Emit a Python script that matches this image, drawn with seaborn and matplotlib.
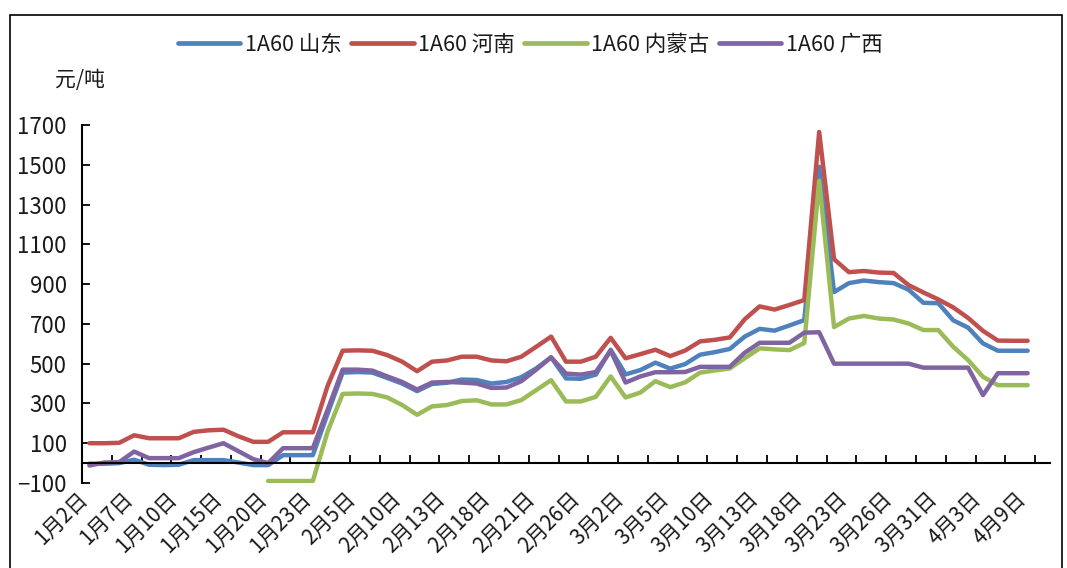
import numpy as np
import pandas as pd
import matplotlib
matplotlib.use("Agg")
import matplotlib.pyplot as plt
import matplotlib.transforms as mtransforms
from matplotlib.lines import Line2D
from matplotlib.patches import Rectangle
import seaborn as sns

# Category axis: 65 slots, a date label on every third one
tick_labels = ["1月2日", "1月7日", "1月10日", "1月15日", "1月20日", "1月23日",
               "2月5日", "2月10日", "2月13日", "2月18日", "2月21日", "2月26日",
               "3月2日", "3月5日", "3月10日", "3月13日", "3月18日", "3月23日",
               "3月26日", "3月31日", "4月3日", "4月9日"]
label_step = 3
n_slots = 65

# 1A60 prices (元/吨)
shandong = [-3, -3, 0, 17, -8, -10, -8, 15, 15, 15, 3, -10, -10, 40, 40, 40, 250,
            455, 458, 455, 428, 400, 362, 398, 404, 420, 418, 400, 408, 432, 476, 532,
            426, 424, 445, 570, 446, 468, 505, 475, 498, 545, 558, 574, 636, 675, 666, 692, 719,
            1490, 860, 905, 918, 910, 905, 872, 806, 804, 718, 681, 602, 565, 565, 565]
henan = [100, 100, 102, 140, 125, 125, 125, 157, 165, 168, 135, 107, 107, 155, 155, 155, 390,
         565, 567, 565, 543, 510, 462, 510, 516, 535, 535, 516, 512, 535, 585, 636,
         510, 510, 535, 630, 527, 548, 570, 538, 566, 612, 620, 632, 723, 788, 772, 795, 820,
         1665, 1025, 960, 966, 958, 956, 895, 858, 823, 783, 730, 665, 616, 615, 615]
neimenggu = [np.nan] * 12 + [-90, -90, -90, -90, 160,
             348, 350, 348, 330, 292, 243, 285, 292, 312, 316, 295, 295, 317, 367, 417,
             310, 310, 333, 436, 330, 355, 412, 382, 406, 455, 466, 476, 527, 577, 572, 568, 604,
             1420, 684, 727, 740, 727, 722, 702, 669, 669, 585, 518, 434, 392, 392, 392]
guangxi = [-12, 3, 5, 58, 25, 25, 25, 55, 78, 100, 60, 20, 0, 75, 75, 75, 270,
           470, 470, 465, 436, 408, 370, 405, 408, 405, 400, 378, 380, 412, 470, 532,
           450, 445, 458, 565, 405, 436, 457, 457, 458, 484, 484, 484, 555, 605, 605, 605, 656,
           658, 500, 500, 500, 500, 500, 500, 480, 480, 480, 480, 342, 452, 452, 452]

series_names = ["1A60 山东", "1A60 河南", "1A60 内蒙古", "1A60 广西"]
colors = ["#4F81BD", "#C0504D", "#9BBB59", "#8064A2"]

sns.set_theme(style="white")
plt.rcParams["font.family"] = ["Noto Sans CJK SC", "DejaVu Sans"]
text_color = "#1a1a1a"

idx = np.arange(len(shandong))
df = pd.concat(
    [pd.DataFrame({"idx": idx, "price": vals, "series": name})
     for name, vals in zip(series_names, [shandong, henan, neimenggu, guangxi])],
    ignore_index=True,
)

fig = plt.figure(figsize=(10.67, 5.68), dpi=100)
fig.patch.set_facecolor("white")
ax = fig.add_axes([82 / 1067, 1 - 483 / 568, (1050 - 82) / 1067, (483 - 125) / 568])
ax.set_facecolor("white")

sns.lineplot(data=df, x="idx", y="price", hue="series", hue_order=series_names,
             palette=dict(zip(series_names, colors)), estimator=None, sort=False,
             linewidth=3.2, legend=False, ax=ax,
             solid_capstyle="round", solid_joinstyle="round")

ax.set_xlim(-0.5, n_slots - 0.5)
ax.set_ylim(-100, 1700)
ax.set_yticks(np.arange(-100, 1701, 200))
ax.set_xlabel("")
ax.set_ylabel("")

for side in ("top", "right"):
    ax.spines[side].set_visible(False)
ax.spines["left"].set_color("black")
ax.spines["left"].set_linewidth(1.5)
ax.spines["bottom"].set_color("black")
ax.spines["bottom"].set_linewidth(1.5)
ax.spines["bottom"].set_position(("data", 0))

# tick marks at every second category boundary along the zero line
ax.set_xticks(np.arange(-0.5, n_slots, 2))
ax.tick_params(axis="x", direction="in", length=6, width=1.3, color="black",
               labelbottom=False, bottom=True)
ax.tick_params(axis="y", direction="in", length=6, width=1.3, color="black",
               labelsize=16, labelcolor=text_color, pad=11, left=True)

# date labels sit under the plot area
offset = mtransforms.ScaledTranslation(-0.05, -0.12, fig.dpi_scale_trans)
label_tr = ax.get_xaxis_transform() + offset
for k, lab in enumerate(tick_labels):
    ax.text(k * label_step, 0, lab, transform=label_tr, rotation=45,
            ha="right", va="center", rotation_mode="anchor",
            fontsize=15, color=text_color)

handles = [Line2D([0], [0], color=c, lw=3.4) for c in colors]
fig.legend(handles, series_names, loc="center", bbox_to_anchor=(0.497, 0.921),
           ncol=4, frameon=False, fontsize=15.5, handlelength=2.9,
           handletextpad=0.2, columnspacing=0.45, labelcolor=text_color)

fig.text(55 / 1067, 1 - 80 / 568, "元/吨", fontsize=15, va="center", ha="left",
         color=text_color)

fig.patches.append(Rectangle((10 / 1067, -0.02), (1062 - 10) / 1067, 1 - 15 / 568 + 0.02,
                             transform=fig.transFigure, fill=False,
                             edgecolor="black", lw=1.2))

fig.savefig("out.png", dpi=100)
